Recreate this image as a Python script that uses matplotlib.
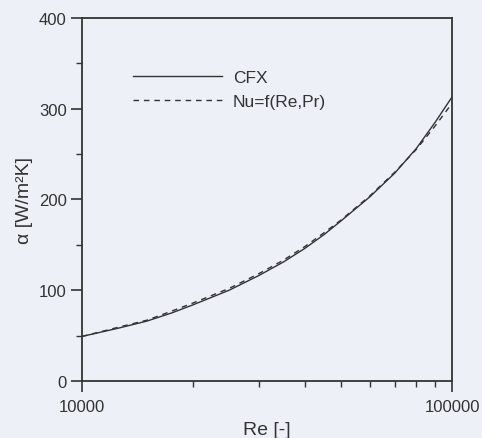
import matplotlib
matplotlib.use("Agg")
import matplotlib.pyplot as plt
from matplotlib.ticker import FixedLocator, NullFormatter, MultipleLocator

plt.rcParams['font.family'] = ['Liberation Sans', 'DejaVu Sans']

# Heat transfer coefficient vs Reynolds number
re = [10000, 12500, 15000, 17500, 20000, 25000, 30000, 35000, 40000, 45000,
      50000, 60000, 70000, 80000, 90000, 100000]
alpha_cfx = [49, 58, 66, 75, 84, 100, 116, 131, 146, 161,
             176, 203, 229, 256, 285, 313]
alpha_corr = [49, 59, 67, 77, 86, 102, 118, 133, 148, 163,
              177, 204, 230, 255, 281, 306]

bg = '#eef0f7'
ink = '#333333'

fig = plt.figure(figsize=(4.82, 4.39), dpi=100, facecolor=bg)
ax = fig.add_axes([0.170, 0.130, 0.768, 0.827], facecolor=bg)

ax.plot(re, alpha_cfx, color=ink, lw=1.0, label='CFX')
ax.plot(re, alpha_corr, color=ink, lw=1.0, ls=(0, (4, 3.5)), label='Nu=f(Re,Pr)')

ax.set_xscale('log')
ax.set_xlim(10000, 100000)
ax.set_ylim(0, 400)

ax.xaxis.set_major_locator(FixedLocator([10000, 100000]))
ax.xaxis.set_minor_locator(FixedLocator([20000, 30000, 40000, 50000, 60000, 70000, 80000, 90000]))
ax.xaxis.set_minor_formatter(NullFormatter())
ax.set_xticklabels(['10000', '100000'])
ax.yaxis.set_major_locator(MultipleLocator(100))
ax.yaxis.set_minor_locator(MultipleLocator(50))

ax.tick_params(which='major', direction='out', length=8, width=1.2, color=ink,
               labelsize=12, labelcolor=ink, pad=3)
ax.tick_params(which='minor', direction='out', length=4, width=1.0, color=ink)
ax.tick_params(axis='x', which='major', pad=5)

for s in ax.spines.values():
    s.set_color(ink)
    s.set_linewidth(1.3)

ax.set_xlabel('Re [-]', fontsize=14, color=ink, labelpad=5)
ax.set_ylabel('α [W/m²K]', fontsize=14, color=ink, labelpad=4)

leg = ax.legend(loc='upper left', bbox_to_anchor=(0.097, 0.90), frameon=False,
                fontsize=12.5, handlelength=5.1, handletextpad=0.62,
                labelspacing=0.5, labelcolor=ink)

fig.savefig('out.png', dpi=100, facecolor=bg)
